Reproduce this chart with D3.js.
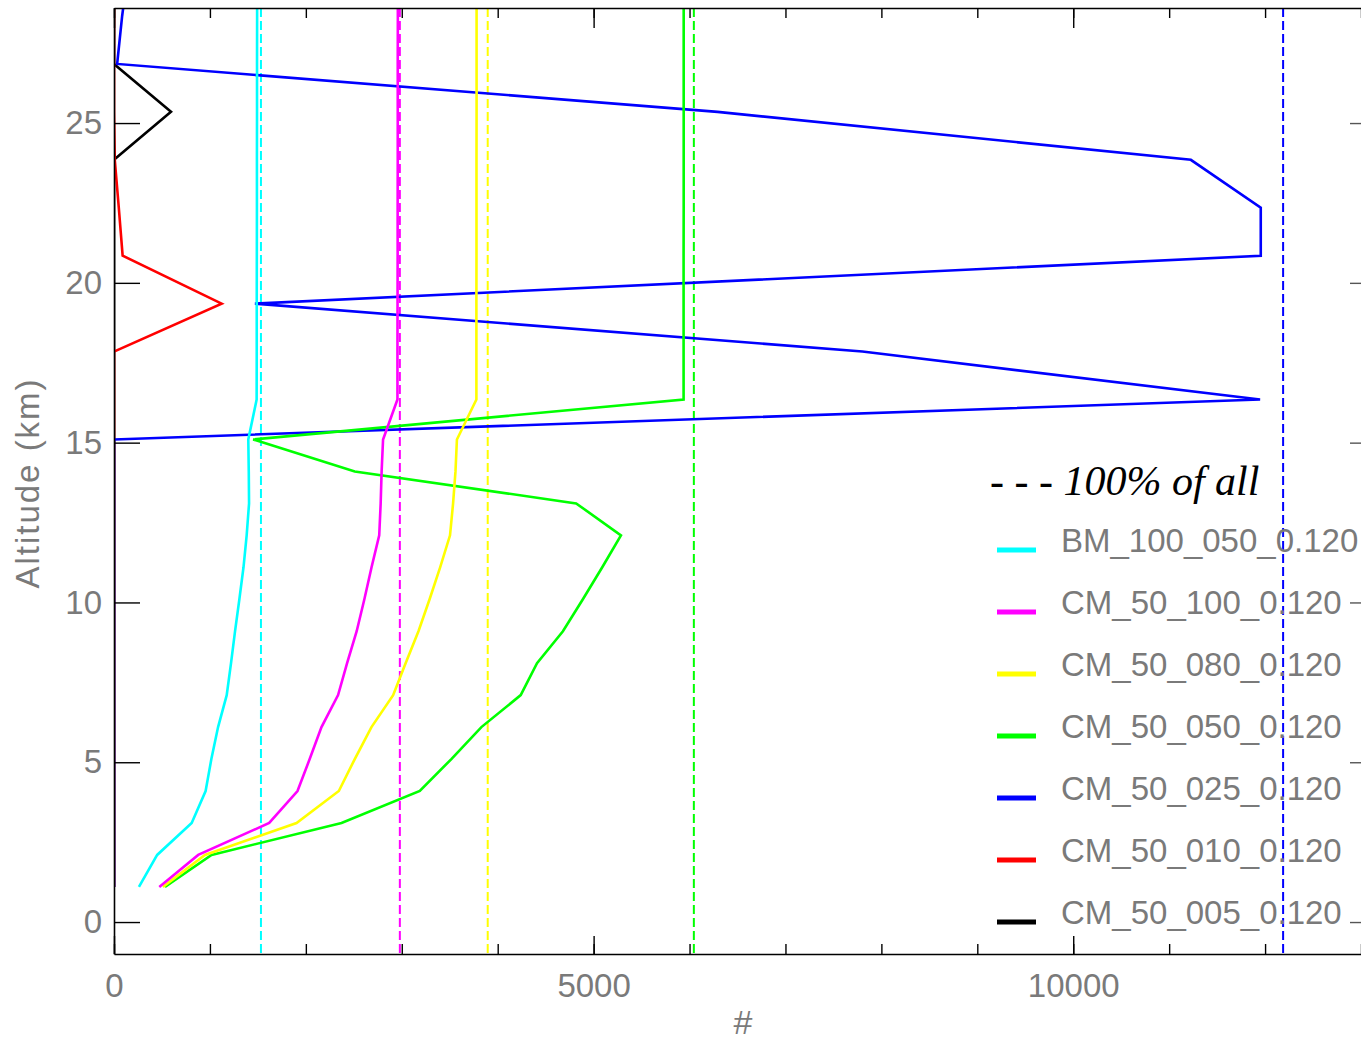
<!DOCTYPE html>
<html>
<head>
<meta charset="utf-8">
<title>Altitude profiles</title>
<script src="https://d3js.org/d3.v7.min.js"></script>
<style>
  body { margin: 0; background: #fff; }
  .tick text, .lbl { font-family: "Liberation Sans", Arial, sans-serif; fill: #7a7a7a; }
</style>
</head>
<body>
<div id="chart"></div>
<script>
// altitude levels (km)
const altitudes = [1.1, 2.1, 3.1, 4.1, 5.1, 6.1, 7.1, 8.1, 9.1, 10.1, 11.1, 12.1, 13.1, 14.1, 15.1,
                   16.35, 17.85, 19.35, 20.85, 22.35, 23.85, 25.35, 26.85, 28.35, 29.85];

const seriesNames = ['BM_100_050_0.120', 'CM_50_100_0.120', 'CM_50_080_0.120', 'CM_50_050_0.120',
                     'CM_50_025_0.120', 'CM_50_010_0.120', 'CM_50_005_0.120'];
const seriesColors = ['#00ffff', '#ff00ff', '#ffff00', '#00ff00', '#0000ff', '#ff0000', '#000000'];

const bm100_050 = [260, 450, 810, 955, 1015, 1085, 1175, 1220, 1262, 1307, 1350, 1383, 1408, 1405, 1400,
                   1487, 1488, 1488, 1489, 1490, 1490, 1491, 1491, 1492, 1492];
const cm50_100 = [472, 878, 1618, 1913, 2040, 2163, 2336, 2430, 2530, 2610, 2685, 2765, 2780, 2790, 2805,
                  2955, 2955, 2956, 2957, 2957, 2958, 2958, 2958, 2959, 2959];
const cm50_080 = [510, 948, 1903, 2344, 2510, 2684, 2910, 3040, 3174, 3290, 3400, 3503, 3535, 3560, 3575,
                  3778, 3778, 3778, 3779, 3779, 3779, 3780, 3780, 3780, 3780];
const cm50_050 = [531, 1017, 2372, 3188, 3517, 3830, 4240, 4410, 4680, 4888, 5090, 5285, 4818, 2510, 1451,
                  5938, 5938, 5938, 5938, 5939, 5939, 5939, 5939, 5939, 5939];
const cm50_025 = [0, 0, 0, 0, 0, 0, 0, 0, 0, 0, 0, 0, 0, 0, 0,
                  11948, 7802, 1469, 11955, 11955, 11226, 6292, 33, 85, 150];
const cm50_010 = [0, 0, 0, 0, 0, 0, 0, 0, 0, 0, 0, 0, 0, 0, 0,
                  0, 0, 1122, 90, 50, 8, 0, 0, 0, 0];
const cm50_005 = [0, 0, 0, 0, 0, 0, 0, 0, 0, 0, 0, 0, 0, 0, 0,
                  0, 0, 0, 0, 0, 0, 594, 0, 0, 0];

// "100% of all" reference values (dashed)
const totalNames = ['BM_100_050_0.120', 'CM_50_100_0.120', 'CM_50_080_0.120', 'CM_50_050_0.120', 'CM_50_025_0.120'];
const totalValues = [1532, 2980, 3896, 6045, 12188];

const xMajorTicks = [0, 5000, 10000];
const yTicks = [0, 5, 10, 15, 20, 25];

const allSeries = [bm100_050, cm50_100, cm50_080, cm50_050, cm50_025, cm50_010, cm50_005];

const W = 1361, H = 1043;
const plotL = 114, plotR = 1361, plotT = 8, plotB = 954;

const svg = d3.select('#chart').append('svg')
    .attr('width', W)
    .attr('height', H);

const x = d3.scaleLinear().domain([0, 13000]).range([plotL, plotR]);
const y = d3.scaleLinear().domain([-1, 28.6]).range([plotB, plotT]);

svg.append('clipPath').attr('id', 'plot')
  .append('rect')
    .attr('x', plotL).attr('y', plotT)
    .attr('width', plotR - plotL).attr('height', plotB - plotT);

// dashed totals
svg.append('g')
    .attr('clip-path', 'url(#plot)')
  .selectAll('line')
  .data(totalValues)
  .join('line')
    .attr('x1', d => x(d)).attr('x2', d => x(d))
    .attr('y1', plotT).attr('y2', plotB)
    .attr('stroke', (d, i) => seriesColors[seriesNames.indexOf(totalNames[i])])
    .attr('stroke-width', 2)
    .attr('stroke-dasharray', '9,4');

// profiles, drawn from last to first so the blue covers red/black at zero
const line = d3.line()
    .x(d => x(d[0]))
    .y(d => y(d[1]));

const order = [6, 5, 4, 3, 2, 1, 0];
svg.append('g')
    .attr('clip-path', 'url(#plot)')
  .selectAll('path')
  .data(order)
  .join('path')
    .attr('fill', 'none')
    .attr('stroke', i => seriesColors[i])
    .attr('stroke-width', 2.6)
    .attr('stroke-linejoin', 'miter')
    .attr('d', i => line(allSeries[i].map((v, k) => [v, altitudes[k]])));

// axes
const minor = d3.range(0, 13001, 1000);

svg.append('g')
    .attr('transform', `translate(0,${plotB})`)
    .call(d3.axisBottom(x).tickValues(minor).tickSize(-10).tickFormat(''))
    .call(g => g.select('.domain').remove());
svg.append('g')
    .attr('transform', `translate(0,${plotB})`)
    .call(d3.axisBottom(x).tickValues(xMajorTicks).tickSize(-18).tickPadding(20)
            .tickSizeOuter(0).tickFormat(d3.format('d')))
    .call(g => g.selectAll('text').attr('font-size', 33).style('font-family', '"Liberation Sans", Arial, sans-serif'));

svg.append('g')
    .attr('transform', `translate(0,${plotT})`)
    .call(d3.axisTop(x).tickValues(minor).tickSize(-10).tickFormat(''))
    .call(g => g.select('.domain').remove());
svg.append('g')
    .attr('transform', `translate(0,${plotT})`)
    .call(d3.axisTop(x).tickValues(xMajorTicks).tickSize(-20).tickFormat('').tickSizeOuter(0));

svg.append('g')
    .attr('transform', `translate(${plotL},0)`)
    .call(d3.axisLeft(y).tickValues(yTicks).tickSize(-26).tickPadding(12).tickSizeOuter(0))
    .call(g => g.selectAll('text').attr('font-size', 33).style('font-family', '"Liberation Sans", Arial, sans-serif'));

svg.append('g')
    .attr('transform', `translate(${plotR},0)`)
    .call(d3.axisRight(y).tickValues(yTicks).tickSize(-11).tickFormat('').tickSizeOuter(0))
    .call(g => g.select('.domain').remove())
    .call(g => g.selectAll('.tick line').attr('stroke', '#555'));

svg.selectAll('.domain').attr('stroke', '#000').attr('stroke-width', 1.6);
svg.selectAll('.tick line').attr('stroke-width', 1.4);

// axis titles
svg.append('text')
    .attr('class', 'lbl')
    .attr('transform', 'translate(39,483) rotate(-90)')
    .attr('text-anchor', 'middle')
    .attr('font-size', 33)
    .attr('letter-spacing', 2)
    .text('Altitude (km)');

svg.append('text')
    .attr('class', 'lbl')
    .attr('x', 743).attr('y', 1034)
    .attr('text-anchor', 'middle')
    .attr('font-size', 34)
    .text('#');

// legend
svg.append('text')
    .attr('x', 990).attr('y', 495)
    .attr('font-family', '"Liberation Serif", "Times New Roman", serif')
    .attr('font-style', 'italic')
    .attr('font-size', 42)
    .attr('fill', '#000')
    .attr('xml:space', 'preserve')
    .text('- - - 100% of all');

const legend = svg.append('g')
  .selectAll('g')
  .data(seriesNames)
  .join('g')
    .attr('transform', (d, i) => `translate(0,${550 + i * 62})`);

legend.append('line')
    .attr('x1', 997).attr('x2', 1036)
    .attr('stroke', (d, i) => seriesColors[i])
    .attr('stroke-width', 5);

legend.append('text')
    .attr('class', 'lbl')
    .attr('x', 1061).attr('y', 2)
    .attr('font-size', 33)
    .text(d => d);
</script>
</body>
</html>
